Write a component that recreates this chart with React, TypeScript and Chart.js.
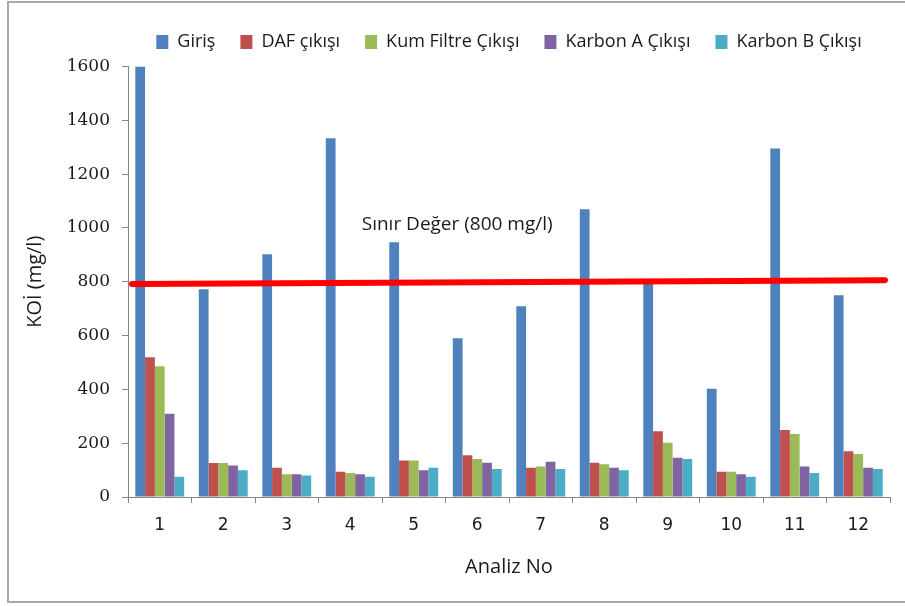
import React, { useEffect, useRef } from 'react';
import { Chart, registerables } from 'chart.js';

Chart.register(...registerables);

// ---- data ----
const CATEGORIES = ['1', '2', '3', '4', '5', '6', '7', '8', '9', '10', '11', '12'];
const SERIES_NAMES = ['Giriş', 'DAF çıkışı', 'Kum Filtre Çıkışı', 'Karbon A Çıkışı', 'Karbon B Çıkışı'];
const GIRIS = [1600, 772, 902, 1333, 947, 590, 709, 1069, 795, 402, 1295, 750];
const DAF = [519, 126, 109, 94, 136, 155, 109, 127, 244, 94, 249, 170];
const KUM = [486, 126, 85, 89, 136, 141, 113, 122, 202, 94, 234, 160];
const KARBON_A = [309, 117, 85, 85, 99, 127, 131, 109, 146, 85, 113, 109];
const KARBON_B = [75, 99, 80, 75, 109, 104, 104, 99, 141, 75, 89, 104];
const Y_MIN = 0;
const Y_MAX = 1600;
const Y_STEP = 200;
const LIMIT_LINE = [792, 806]; // limit line value at left and right end
const LIMIT_LABEL = 'Sınır Değer (800 mg/l)';
const Y_TITLE = 'KOİ (mg/l)';
const X_TITLE = 'Analiz No';

const COLORS = ['#4F81BD', '#C0504D', '#9BBB59', '#8064A2', '#4BACC6'];
const AXIS_COLOR = '#868686';
const TEXT_COLOR = '#1a1a1a';

const limitPlugin = {
  id: 'limitLine',
  afterDatasetsDraw(chart: any) {
    const { ctx, chartArea, scales } = chart;
    const y = scales.y;
    ctx.save();
    ctx.strokeStyle = '#FF0000';
    ctx.lineWidth = 6;
    ctx.lineCap = 'round';
    ctx.beginPath();
    ctx.moveTo(chartArea.left + 4, y.getPixelForValue(LIMIT_LINE[0]));
    ctx.lineTo(chartArea.right - 5, y.getPixelForValue(LIMIT_LINE[1]));
    ctx.stroke();
    ctx.font = '19px "Open Sans"';
    ctx.fillStyle = TEXT_COLOR;
    ctx.textAlign = 'center';
    ctx.textBaseline = 'middle';
    const cx = chartArea.left + 0.432 * (chartArea.right - chartArea.left);
    ctx.fillText(LIMIT_LABEL, cx, y.getPixelForValue(1013));
    ctx.restore();
  },
};

export default function App() {
  const ref = useRef<HTMLCanvasElement | null>(null);

  useEffect(() => {
    if (!ref.current) return;
    const series = [GIRIS, DAF, KUM, KARBON_A, KARBON_B];
    const chart = new Chart(ref.current, {
      type: 'bar',
      data: {
        labels: CATEGORIES,
        datasets: series.map((d, i) => ({
          label: SERIES_NAMES[i],
          data: d,
          backgroundColor: COLORS[i],
          borderWidth: 0,
          categoryPercentage: 0.77,
          barPercentage: 1.0,
        })),
      },
      options: {
        responsive: false,
        animation: false,
        devicePixelRatio: 1,
        layout: { padding: { top: 8, left: 0, right: 15, bottom: 0 } },
        plugins: {
          legend: {
            position: 'top',
            fullSize: false,
            labels: {
              boxWidth: 12,
              boxHeight: 14,
              padding: 25,
              color: TEXT_COLOR,
              font: { family: '"Open Sans", sans-serif', size: 18 },
            },
          },
          title: {
            display: true,
            text: '',
            weight: 500,
            fullSize: false,
            padding: 0,
            font: { size: 5, lineHeight: 1.1 },
          },
          tooltip: { enabled: false },
        },
        scales: {
          x: {
            grid: {
              offset: true,
              drawOnChartArea: false,
              drawTicks: true,
              tickLength: 6,
              color: AXIS_COLOR,
            },
            border: { color: AXIS_COLOR, width: 1 },
            ticks: {
              padding: 12,
              color: TEXT_COLOR,
              font: { family: '"DejaVu Sans", sans-serif', size: 17 },
            },
            title: {
              display: true,
              text: X_TITLE,
              color: TEXT_COLOR,
              font: { family: '"Open Sans", sans-serif', size: 20 },
              padding: { top: 0, bottom: 27 },
            },
            afterFit(scale: any) {
              scale.height = 109;
            },
          },
          y: {
            min: Y_MIN,
            max: Y_MAX,
            ticks: {
              stepSize: Y_STEP,
              padding: 12,
              color: TEXT_COLOR,
              font: { family: '"DejaVu Serif", serif', size: 17 },
              callback: (v: any) => String(v),
            },
            grid: {
              drawOnChartArea: false,
              drawTicks: true,
              tickLength: 6,
              color: AXIS_COLOR,
            },
            border: { color: AXIS_COLOR, width: 1 },
            title: {
              display: true,
              text: Y_TITLE,
              color: TEXT_COLOR,
              font: { family: '"Open Sans", sans-serif', size: 20 },
              padding: { top: 23, bottom: 0 },
            },
            afterFit(scale: any) {
              scale.width = 128;
            },
          },
        },
      },
      plugins: [limitPlugin],
    } as any);
    return () => chart.destroy();
  }, []);

  return (
    <div
      style={{
        position: 'absolute',
        left: 0,
        top: 0,
        width: 905,
        height: 606,
        overflow: 'hidden',
        background: '#ffffff',
      }}
    >
      <div
        style={{
          position: 'absolute',
          left: 7,
          top: 1,
          width: 930,
          height: 602,
          border: '2px solid #a9a9a9',
          boxSizing: 'border-box',
        }}
      />
      <canvas
        ref={ref}
        width={905}
        height={606}
        style={{ position: 'absolute', left: 0, top: 0 }}
      />
    </div>
  );
}
